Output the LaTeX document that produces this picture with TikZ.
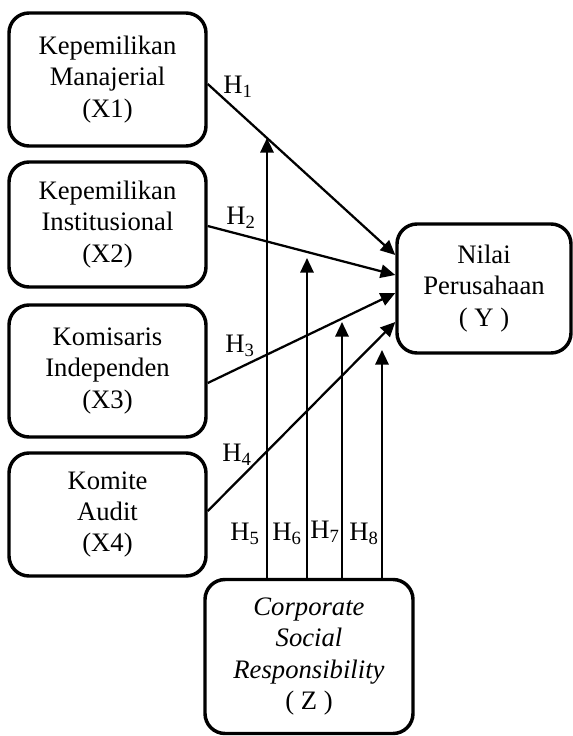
\documentclass[tikz,border=0pt]{standalone}
\usepackage{fontspec}
\setmainfont{Liberation Serif}
\usetikzlibrary{calc,arrows.meta}
\def\px{0.75pt}
\tikzset{
  box/.style={draw, line width=2.6pt, rounded corners=15pt, align=center, inner sep=0pt,
    font=\fontsize{20}{23.5}\selectfont},
  arr/.style={line width=1.7pt, -{Triangle[length=11pt,width=10pt]}},
  hlab/.style={font=\fontsize{20}{23.5}\selectfont, inner sep=0pt}
}
\begin{document}
\begin{tikzpicture}[x=0.75pt,y=-0.75pt]
\useasboundingbox (0,0) rectangle (572,736);
\node[box, minimum width=197*\px, minimum height=133*\px] (x1) at (107.5,79.5) {Kepemilikan\\Manajerial\\(X1)};
\node[box, minimum width=197*\px, minimum height=125*\px] (x2) at (107.5,224.5) {Kepemilikan\\Institusional\\(X2)};
\node[box, minimum width=197*\px, minimum height=132*\px] (x3) at (107.5,371) {Komisaris\\Independen\\(X3)};
\node[box, minimum width=197*\px, minimum height=123*\px] (x4) at (107.5,514.5) {Komite\\Audit\\(X4)};
\node[box, minimum width=174*\px, minimum height=129*\px] (y) at (484,288.5) {Nilai\\Perusahaan\\( Y )};
\node[box, minimum width=208*\px, minimum height=154*\px] (z) at (309,656.5) {\itshape Corporate\\\itshape Social\\\itshape Responsibility\\( Z )};
\draw[arr] ($(x1.east)+(0,4.5)$) -- ($(y.west)+(0,-33.5)$);
\draw[arr] ($(x2.east)+(0,1.5)$) -- ($(y.west)+(0,-13.5)$);
\draw[arr] ($(x3.east)+(0,12)$) -- ($(y.west)+(0,4.5)$);
\draw[arr] ($(x4.east)+(0,-3.5)$) -- ($(y.west)+(0,33.5)$);
\coordinate (t5) at (267,138);
\coordinate (t6) at (307,258);
\coordinate (t7) at (342,322);
\coordinate (t8) at (382,350);
\draw[arr] ($(z.north)+(-42,0)$) -- (t5);
\draw[arr] ($(z.north)+(-2,0)$) -- (t6);
\draw[arr] ($(z.north)+(33,0)$) -- (t7);
\draw[arr] ($(z.north)+(73,0)$) -- (t8);
\node[hlab] (h1) at (238,87) {H\textsubscript{1}};
\node[hlab] (h2) at (241,218) {H\textsubscript{2}};
\node[hlab] (h3) at (240,346) {H\textsubscript{3}};
\node[hlab] (h4) at (237,455) {H\textsubscript{4}};
\node[hlab] (h5) at (245,534) {H\textsubscript{5}};
\node[hlab] (h6) at (287,534) {H\textsubscript{6}};
\node[hlab] (h7) at (325,532) {H\textsubscript{7}};
\node[hlab] (h8) at (364,534) {H\textsubscript{8}};
\end{tikzpicture}
\end{document}
